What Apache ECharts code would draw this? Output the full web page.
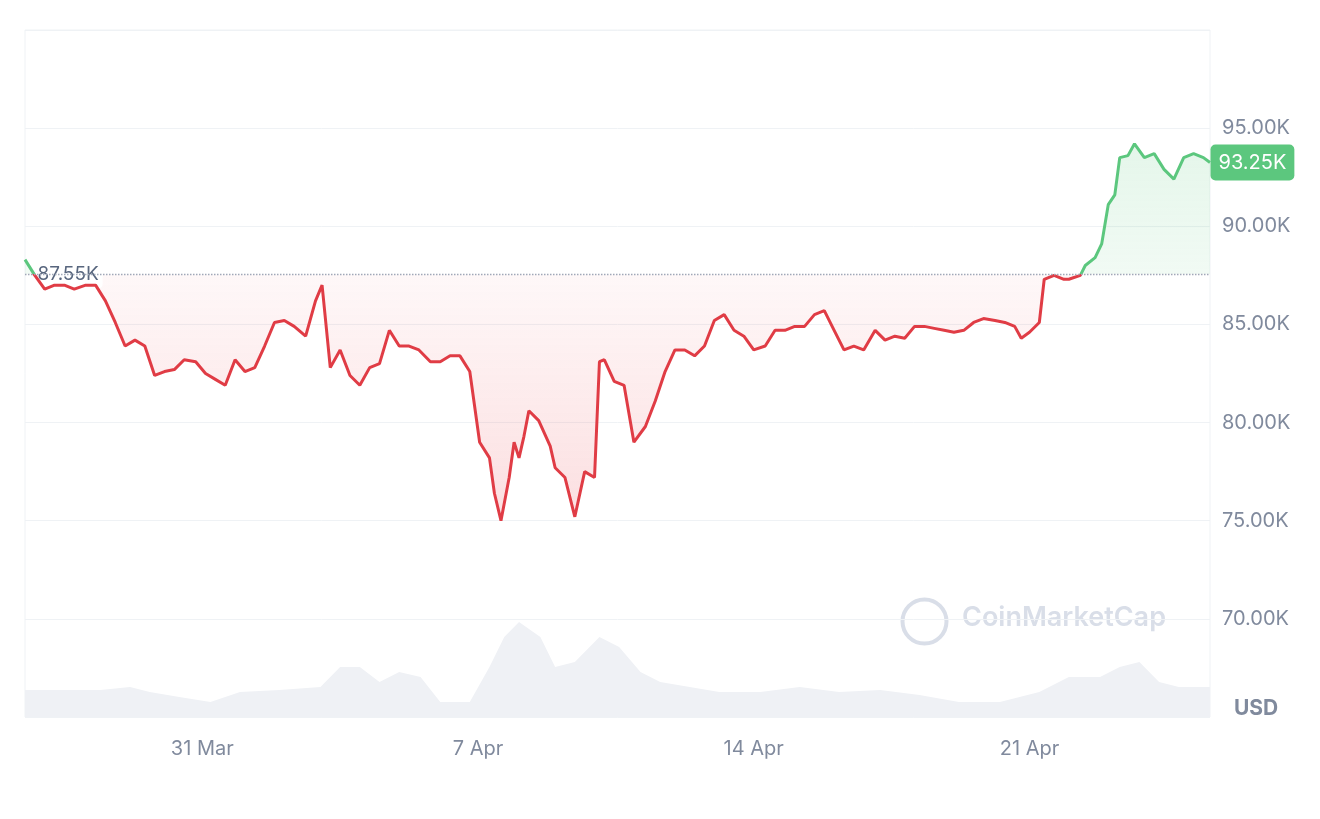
<!DOCTYPE html>
<html><head><meta charset="utf-8">
<script src="https://cdn.jsdelivr.net/npm/echarts@6/dist/echarts.min.js"></script>
<style>html,body{margin:0;padding:0;background:#fff}#c{width:1320px;height:819px}</style>
</head><body><div id="c"></div>
<script>
// hours from 2025-03-26 12:00 and price in K USD
const priceHours = [0,6,12,18,24,30,37,43,49,55,61,67,73,79,85,91,97,104,110,116,122,128,134,140,146,152,158,164,171,177,181,186,192,198,204,210,216,222,228,234,240,247,253,259,265,271,277,283,286,290,295,298,301,304,307,313,320,323,329,335,341,347,350,353,359,365,371,378,384,390,396,402,408,414,420,426,432,438,444,451,457,463,469,475,481,487,493,499,505,511,518,524,530,536,542,548,554,560,566,572,578,584,591,597,603,607,612,618,621,627,633,636,643,646,652,656,660,664,667,672,676,682,688,694,700,706,712,718,722];
const priceValues = [88.3,87.5,86.8,87.0,87.0,86.8,87.0,87.0,86.2,85.1,83.9,84.2,83.9,82.4,82.6,82.7,83.2,83.1,82.5,82.2,81.9,83.2,82.6,82.8,83.9,85.1,85.2,84.9,84.4,86.2,87.0,82.8,83.7,82.4,81.9,82.8,83.0,84.7,83.9,83.9,83.7,83.1,83.1,83.4,83.4,82.6,79.0,78.2,76.4,75.0,77.2,79.0,78.2,79.3,80.6,80.1,78.8,77.7,77.2,75.2,77.5,77.2,83.1,83.2,82.1,81.9,79.0,79.8,81.1,82.6,83.7,83.7,83.4,83.9,85.2,85.5,84.7,84.4,83.7,83.9,84.7,84.7,84.9,84.9,85.5,85.7,84.7,83.7,83.9,83.7,84.7,84.2,84.4,84.3,84.9,84.9,84.8,84.7,84.6,84.7,85.1,85.3,85.2,85.1,84.9,84.3,84.6,85.1,87.3,87.5,87.3,87.3,87.5,88.0,88.4,89.1,91.1,91.6,93.5,93.6,94.2,93.5,93.7,92.9,92.4,93.5,93.7,93.5,93.25];
const volHours = [0,46,64,76,94,113,131,155,180,192,204,216,228,241,253,271,283,292,301,314,323,335,350,362,375,387,405,423,448,472,496,521,545,569,594,618,636,655,667,679,691,703,722];
const volValues = [27,27,30,25,20,15,25,27,30,50,50,35,45,40,15,15,50,80,95,80,50,55,80,70,45,35,30,25,25,30,25,27,22,15,15,25,40,40,50,55,35,30,30];
const baseline = 87.55, lastPrice = 93.25;
const xLabels = ['31 Mar','7 Apr','14 Apr','21 Apr'];
const xLabelHours = [108,276,444,612];
const yTicks = [70,75,80,85,90,95];

const price = priceHours.map((h,i)=>[h, priceValues[i]]);
const vol = volHours.map((h,i)=>[h, volValues[i]]);

const split = (30 + (100 - baseline) / 35 * 687) / 819;
function grad(top, bottom){
  return new echarts.graphic.LinearGradient(0,0,0,819,[
    {offset:0,color:top},{offset:split,color:top},{offset:split,color:bottom},{offset:1,color:bottom}],true);
}
function areaGrad(){
  return new echarts.graphic.LinearGradient(0,0,0,819,[
    {offset:0,color:'rgba(92,199,126,0.35)'},{offset:split,color:'rgba(92,199,126,0.12)'},
    {offset:split,color:'rgba(234,57,67,0.05)'},{offset:(30+ (100-76)/35*687)/819,color:'rgba(234,57,67,0.22)'},
    {offset:1,color:'rgba(234,57,67,0.22)'}],true);
}

const chart = echarts.init(document.getElementById('c'));
chart.setOption({
  animation:false,
  grid:{left:25,right:110,top:30,bottom:102,show:true,borderColor:'#eff2f5',borderWidth:1},
  xAxis:{type:'value',min:0,max:722,axisLine:{show:false},axisTick:{show:false},splitLine:{show:false},
    axisLabel:{customValues:xLabelHours,color:'#808a9d',fontSize:20,fontFamily:'Inter',margin:22,
      formatter:v=>{const i=xLabelHours.indexOf(v);return i>=0?xLabels[i]:'';}}},
  yAxis:[{type:'value',position:'right',min:65,max:100,interval:5,
    axisLine:{show:false},axisTick:{show:false},
    splitLine:{lineStyle:{color:'#eff2f5'}},
    axisLabel:{color:'#808a9d',fontSize:20,fontFamily:'Inter',margin:12,
      formatter:v=>yTicks.includes(v)?v.toFixed(2)+'K':''}},
    {type:'value',min:0,max:687,show:false}],
  graphic:[
    {type:'circle',left:900,top:597,shape:{r:22},style:{fill:'none',stroke:'#d9dee8',lineWidth:4}},
    {type:'text',left:962,top:604,style:{text:'CoinMarketCap',font:'600 27px Inter',fill:'#d9dee8'}},
    {type:'text',left:1234,top:698,style:{text:'USD',font:'bold 21px Inter',fill:'#808a9d'}}
  ],
  series:[
    {type:'line',yAxisIndex:1,data:vol,showSymbol:false,lineStyle:{width:0},
      areaStyle:{color:'#eff1f5',opacity:1},z:1},
    {type:'line',data:price,showSymbol:false,z:5,
      lineStyle:{width:3,color:grad('#5cc77e','#e03c45')},
      areaStyle:{origin:baseline,color:areaGrad()}},
    {type:'line',data:[[0,baseline],[722,baseline]],showSymbol:false,z:6,
      lineStyle:{type:'dotted',color:'#a0a8b8',width:1.5},
      markPoint:{symbol:'rect',symbolSize:1,silent:true,itemStyle:{color:'rgba(0,0,0,0)'},
        label:{show:true},
        data:[
          {coord:[0,baseline],value:baseline,
            label:{show:true,position:'right',distance:8,formatter:'87.55K',color:'#58667e',fontSize:19,fontFamily:'Inter',
              backgroundColor:'rgba(255,255,255,0.92)',padding:[4,4],borderRadius:4}},
          {coord:[722,lastPrice],value:lastPrice,
            label:{show:true,position:'right',distance:0,formatter:'93.25K',color:'#fff',fontSize:20,fontFamily:'Inter',
              backgroundColor:'#5cc77e',padding:[8,8],borderRadius:5}}
        ]}}
  ]
});
</script></body></html>
